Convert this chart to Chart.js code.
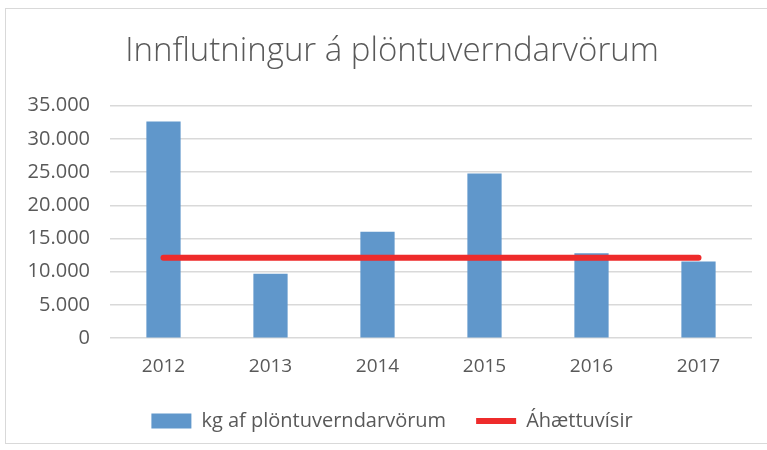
<!DOCTYPE html>
<html>
<head>
<meta charset="utf-8">
<script src="https://cdn.jsdelivr.net/npm/chart.js@4/dist/chart.umd.min.js"></script>
<style>
    body { margin: 0; background: #fff; }
    .frame { position: absolute; left: 5px; top: 8px; width: 780px; height: 436px; border: 1px solid #d9d9d9; box-sizing: border-box; }
    .wrap { position: absolute; left: 0; top: 0; width: 767px; height: 450px; }
</style>
</head>
<body>
<div class="frame"></div>
<div class="wrap"><canvas id="myChart" width="767" height="450"></canvas></div>
<script>
// data
const years = ["2012", "2013", "2014", "2015", "2016", "2017"];
const kgValues = [32600, 9700, 16000, 24800, 12800, 11550];
const riskValues = [12100, 12100, 12100, 12100, 12100, 12100];
const seriesNames = ["kg af plöntuverndarvörum", "Áhættuvísir"];

const textColor = '#595959';
const fontName = "'Open Sans', sans-serif";

// 35000 -> "35.000"
function dotThousands(v) {
    return String(v).replace(/\B(?=(\d{3})+(?!\d))/g, '.');
}

// title and legend sit a bit right of the plot centre in the original
const nudgeBoxes = {
    id: 'nudgeBoxes',
    afterLayout(chart) {
        const t = chart.titleBlock;
        t.left += 16; t.right += 16;
        const lg = chart.legend;
        lg.left += 16; lg.right += 16;
        lg.top -= 6; lg.bottom -= 6;
    }
};

var ctx = document.getElementById('myChart');
var myChart = new Chart(ctx, {
    data: {
        labels: years,
        datasets: [{
            type: 'line',
            label: seriesNames[1],
            data: riskValues,
            borderColor: '#ee2b2b',
            backgroundColor: '#ee2b2b',
            borderWidth: 6,
            borderCapStyle: 'round',
            pointRadius: 0,
            order: 0
        }, {
            type: 'bar',
            label: seriesNames[0],
            data: kgValues,
            backgroundColor: '#6097cb',
            borderWidth: 0,
            barPercentage: 0.64,
            categoryPercentage: 0.5,
            order: 1
        }]
    },
    options: {
        responsive: false,
        animation: false,
        layout: { padding: { left: 0, right: 15, top: 0, bottom: 3 } },
        plugins: {
            title: {
                display: true,
                text: "Innflutningur á plöntuverndarvörum",
                color: textColor,
                font: { family: fontName, size: 33, weight: 300 },
                padding: { top: 32, bottom: 34 }
            },
            legend: {
                position: 'bottom',
                labels: {
                    color: textColor,
                    font: { family: fontName, size: 20 },
                    usePointStyle: true,
                    pointStyleWidth: 40,
                    boxHeight: 15,
                    padding: 30,
                    generateLabels: function (chart) {
                        return [{
                            text: seriesNames[0],
                            fillStyle: '#6097cb',
                            strokeStyle: '#6097cb',
                            lineWidth: 0,
                            pointStyle: 'rect',
                            fontColor: textColor,
                            datasetIndex: 1
                        }, {
                            text: seriesNames[1],
                            fillStyle: '#ee2b2b',
                            strokeStyle: '#ee2b2b',
                            lineWidth: 6,
                            pointStyle: 'line',
                            fontColor: textColor,
                            datasetIndex: 0
                        }];
                    }
                }
            },
            tooltip: { enabled: false }
        },
        scales: {
            x: {
                grid: { display: false },
                border: { display: false },
                ticks: { color: textColor, font: { family: fontName, size: 19 }, padding: 9 }
            },
            y: {
                min: 0,
                max: 35000,
                ticks: {
                    stepSize: 5000,
                    color: textColor,
                    font: { family: fontName, size: 20 },
                    padding: 20,
                    callback: (value) => dotThousands(value)
                },
                grid: { color: '#d9d9d9', lineWidth: 1.5, drawTicks: false },
                border: { display: false },
                afterFit: (scale) => { scale.width = 110; }
            }
        }
    },
    plugins: [nudgeBoxes]
});
</script>
</body>
</html>
